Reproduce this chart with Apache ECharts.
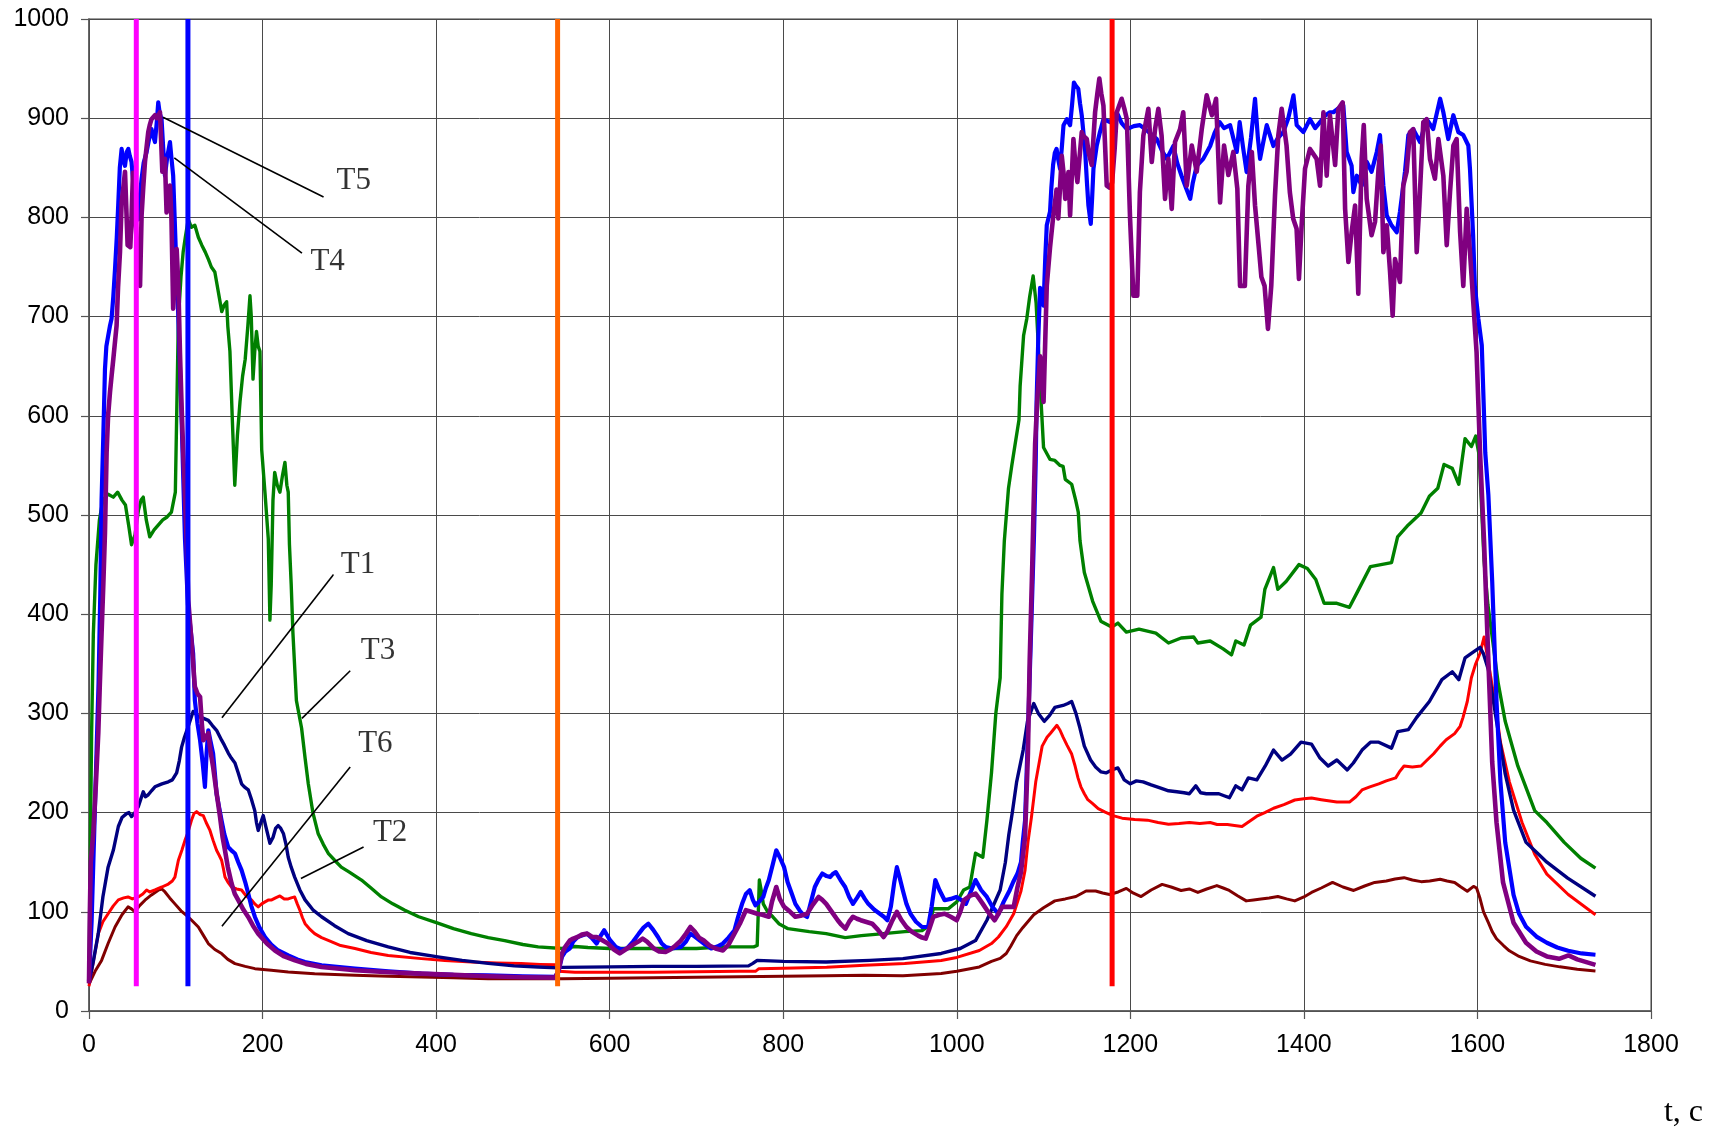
<!DOCTYPE html>
<html><head><meta charset="utf-8">
<script src="https://cdn.jsdelivr.net/npm/echarts@6/dist/echarts.min.js"></script>
<style>html,body{margin:0;padding:0;background:#fff}#c{width:1714px;height:1136px}</style>
</head><body><div id="c"></div>
<script>
// ---- data: [time s, temperature] ----
const seriesGreen = [[0,30],[1,120],[3,280],[5,380],[8,450],[12,495],[16,515],[22,521],[28,518],[33,523],[38,515],[42,510],[46,488],[49,470],[53,480],[57,505],[60,515],[62.5,518],[66,495],[70,478],[75,485],[80,490],[85,495],[90,498],[95,503],[99.5,523],[103,698],[106,740],[108.5,765],[111,780],[114.4,798],[118,790],[122,792],[126,780],[130,772],[134,765],[137.5,758],[141,750],[145,745],[149,725],[153,705],[156,712],[158.6,715],[160,690],[162.4,665],[165,600],[168,530],[171,580],[174,614],[177,640],[180,657],[183,690],[185.5,721],[187,700],[189,637],[191,665],[193,685],[195,670],[197,665],[199,566],[203,520],[206.6,476],[208.5,394],[210,430],[212,515],[214,543],[217,530],[220,523],[223,540],[225.8,553],[228,530],[229.6,523],[231,470],[233,430],[235,381],[239,313],[245,285],[249,255],[252.7,229],[258,200],[264,179],[270,168],[275.7,159],[283,152],[290.7,145],[300,140],[314,132],[325,124],[337,115],[350,108],[364,101.6],[380,95],[402,88.5],[420,83],[440.5,78],[460,74],[479,71],[500,67],[517.6,64.6],[545,63],[560,65],[575,64],[600,63],[650,63],[700,63],[731,64.6],[766,64.6],[770,66],[772.5,132],[775,120],[777,108],[782,100],[788,95],[795,88],[805.5,83],[830,80],[849.5,78],[871.4,74],[890,76],[915.7,78],[940,80],[960,81],[968,86],[973,103],[990,103],[1000,110],[1008,122],[1015,125],[1021.6,159],[1030,155],[1034.7,192],[1040,240],[1045,300],[1050,336],[1052,420],[1054.8,474],[1059.6,527],[1063.4,550],[1067,570],[1071.7,596],[1073,630],[1077,681],[1080.7,698],[1084,720],[1088,741],[1091.4,714],[1094,670],[1096,633],[1100,568],[1107.5,556],[1113,555],[1119,550],[1122.5,549],[1125,536],[1132.4,531],[1137,515],[1140,503],[1142,474],[1147,442],[1156.6,413],[1166,393],[1178.5,387],[1185.7,391],[1195.4,382],[1210,385],[1229.4,381],[1244,371],[1258.5,376],[1273,377],[1277.8,371],[1292,373],[1307,365],[1316.6,359],[1321.5,373],[1331,369],[1338.5,389],[1350.6,397],[1355,425],[1365,447],[1370,425],[1379.5,433],[1394.3,450],[1404,446],[1413.7,435],[1423.3,411],[1438,411],[1452.5,407],[1462,423],[1476.7,448],[1501,452],[1508,478],[1520.3,490],[1535,502],[1544.6,519],[1554.3,527],[1561.5,551],[1571,547],[1578.5,531],[1585.7,577],[1593,569],[1598,579.5],[1602,560],[1607.6,454],[1612,410],[1617,377],[1624,330],[1632,292],[1646.5,247],[1666,202],[1680,190],[1700,170],[1719,154],[1736,144]];

const seriesNavy = [[0,28],[5,50],[10.7,78],[16,115],[22,145],[28,162],[33.8,186],[38,195],[43.3,199],[46,200],[49,196],[53,200],[56.8,206],[62.5,221],[65,216],[68.3,218],[72,222],[76,226],[84,229],[91.4,231],[96,233],[101,240],[104,252],[106.7,266],[110,276],[114.4,287],[120,302],[126,297],[132,295],[137.5,293],[142,288],[147,283],[152.8,273],[156,268],[160.5,260],[164,255],[168.2,250],[172,240],[175.8,229],[179,226],[183.5,223],[187,214],[191,202],[193,190],[195,182],[198,190],[200.8,197],[204,185],[208.5,169],[212,175],[215,184],[218,187],[221,184],[224,179],[227,168],[229.6,155],[233,145],[237,135],[243,122],[249,112],[258,102],[268,95],[283,86],[298.7,78],[320,71],[344.8,64.6],[370,59],[402,54.5],[430,51],[460,48],[490,45.5],[517.7,44.4],[540,43.5],[545,44],[600,44.5],[650,45],[700,45],[760,45.5],[765,48],[770,51],[800,50],[849.5,49.4],[900,51],[938,52.8],[982,58],[1004,63],[1021.6,71],[1034.7,91.5],[1050,122],[1056,150],[1060,178],[1064,200],[1069,231],[1076.5,263],[1081.5,292],[1088.7,310],[1094,300],[1100.8,292],[1107,298],[1113,306],[1122.5,308],[1128,310],[1132.4,312],[1137.3,300],[1142,285],[1147,267],[1154.2,253],[1160,246],[1166.3,241],[1172,240],[1178.5,243],[1185.7,245],[1190,238],[1193,233],[1200,229],[1207,232],[1214.7,231],[1224,228],[1234.2,225],[1244,222],[1253.6,221],[1262,220],[1268,219],[1275.4,227],[1281,220],[1287.6,219],[1302,219],[1308,217],[1314.2,215],[1321.5,227],[1328.7,223],[1336,235],[1345.8,233],[1355.5,247],[1365,263],[1374.8,253],[1384.6,259],[1396.7,271],[1408.8,269],[1418.6,255],[1428,247],[1438,253],[1450,243],[1457,250],[1467,263],[1476.7,271],[1486.3,271],[1501,265],[1508.2,281.6],[1520.4,283.6],[1530,296],[1544.6,312],[1559,334],[1571,342],[1578.5,334],[1585.7,356],[1593,360.6],[1603,366.6],[1607,360],[1612.6,344],[1617,320],[1622,292],[1632,239],[1641.6,202.5],[1656,170],[1668,160],[1680,150],[1704,134],[1736,115.7]];

const seriesRed = [[0,25],[5,50],[10.7,78],[16,90],[22,98],[28,106],[33.8,112],[40,114],[45,115],[50,113],[56.8,115],[62,118],[66.4,122],[70,120],[76,122],[84,125],[91.4,128],[96,131],[99,135],[103,152],[107,162],[110.6,172],[114,180],[118,192],[121,199],[124,201],[128,198],[131.7,197],[135,190],[139.4,182],[143,172],[147,162],[150,157],[152.8,152],[155,143],[156.7,135],[160,130],[164.3,125],[170,123],[175.8,122],[181,116],[187.3,112],[191,108],[195,105],[199,108],[202.8,110],[207,112],[210.5,112],[215,114],[220,116],[225,113],[229.6,113],[233,114],[237,115],[240,108],[243,101.6],[246,94],[249,88],[255,82],[260,78],[268,74],[275.7,71.3],[290,66],[306.5,63],[325,59],[344.8,56],[383,52.8],[410,51],[440.8,49.4],[470,48.5],[498,47.8],[520,47],[538,46.5],[541,40],[560,39],[600,39],[650,39],[700,39.5],[750,40],[768,40],[772,42.7],[800,43],[850,44],[893.7,46],[940,48],[982,51],[1000,54],[1026,61],[1040,68],[1048,74.6],[1057,85],[1065.6,98],[1074,121],[1078.7,142],[1082,170],[1086,195],[1091,231],[1098.4,267],[1104,276],[1108,280],[1115.4,288],[1119,283],[1122.5,276],[1127,268],[1132.4,259],[1136,248],[1139.7,235],[1143,226],[1147,219],[1151,213],[1156.6,209],[1163,204],[1171,200.5],[1180,197],[1190.5,194.4],[1205,193],[1219.7,192.4],[1232,190],[1244,188.3],[1256,189],[1268,190],[1280,189],[1292,190],[1300,188],[1311.8,188],[1320,187],[1328.7,186],[1337,191],[1345.8,196.4],[1355,200],[1365,204.4],[1377,208],[1389.5,212.7],[1400,214],[1408.8,214.7],[1420,213],[1438,210.6],[1452.5,210.6],[1460,216],[1467,222.8],[1476,226],[1486.3,229],[1495,232],[1505.8,235],[1510,241],[1515.4,247],[1525,246],[1535,247],[1542,253],[1549.5,259.3],[1557,267],[1564,273.4],[1573.7,279.6],[1580,287],[1583.4,296],[1588.3,312],[1593,336],[1598,350],[1603,360.6],[1607.6,377],[1611,360],[1617,328],[1622,300],[1626.5,271],[1636.8,231],[1651.4,190],[1666,158],[1680,138],[1704.6,117.4],[1736,97]];

const seriesMaroon = [[0,27],[7,40],[14.5,51],[22,68],[30,84.7],[38,97],[45,105],[49,103],[53,100],[58,106],[64.5,111.7],[72,117],[79.8,121.8],[84,123],[87.6,120],[93,114],[99,108],[106,101],[114.4,94.8],[120,90],[126,84.7],[132,76],[137.5,68],[145,62],[152.8,57.9],[160,52],[168.2,47.8],[180,45],[191.2,42.7],[210,41],[229.6,39.3],[260,37.5],[306.5,36],[345,35],[383,34.3],[420,33.5],[460,32.6],[500,32.6],[545,32.6],[600,33],[650,33.5],[700,34],[750,34.5],[800,35],[850,35.5],[893.7,36],[938,35.5],[982,37.7],[1000,40],[1026,44.4],[1040,50],[1050,53],[1057,58],[1062,65],[1069,76],[1076,84],[1088.7,97],[1100,104],[1113,111],[1125,113],[1137.3,115.4],[1149,121],[1160,121],[1168,119],[1176,117.4],[1186,120],[1195.4,123.6],[1203,119],[1212.4,115.4],[1224,122],[1236.6,127.6],[1247,125],[1258.5,121.5],[1268,123],[1277.8,119.5],[1288,123],[1299.7,126.4],[1307,124],[1314,121.5],[1324,116],[1333.6,111],[1342,112],[1350.6,113],[1360,114],[1370,115.4],[1380,113],[1389.5,111],[1400,115],[1408.8,119.5],[1420,124],[1433,129.6],[1445,125],[1457.4,121.5],[1470,126],[1481.6,129.6],[1495,131],[1505,133],[1515.4,134.4],[1525,132],[1535,130.4],[1545,131],[1557,132.8],[1565,131],[1573.7,129.6],[1581,125],[1588.3,120.7],[1595.5,125.6],[1599,124],[1603,113.4],[1607,100],[1612.6,89],[1617,80],[1622,72.8],[1630,66],[1636.8,60.7],[1648,55],[1661,50.5],[1678,47],[1695,44.5],[1715,42],[1736,40.4]];

const seriesBlue = [[0,30],[3,90],[6,180],[9,270],[11,330],[13,420],[14.5,515],[16.5,580],[18.4,647],[20,670],[22.2,681],[24,690],[26,698],[28,720],[30,748],[32,780],[33.8,815],[35.5,850],[37.6,869],[39.5,858],[41.5,852],[43.5,866],[45.3,869],[47,862],[49,856],[51,835],[53,812],[55,805],[56.8,798],[58.5,820],[60.6,839],[63,855],[66.4,866],[69,878],[72,889],[74,882],[76,876],[78,895],[79.8,916],[81.5,905],[83.6,899],[85.5,870],[87.5,842],[90,860],[93.3,876],[95,860],[97,842],[99.8,772],[103,698],[106.7,597],[110.6,476],[114,410],[117,385],[120,360.5],[122,313],[125,290],[128,273],[131,250],[133.6,226],[135.5,260],[137.5,283],[140,272],[143,259.6],[145,240],[147,219],[150,205],[152.8,192],[156,178],[160.5,165],[164,162],[168.2,158.8],[172,150],[175.8,142],[180,130],[183.5,118.4],[187,106],[191.2,94.8],[196,85],[202.8,74.6],[210,67],[218,61],[229.6,56],[240,52],[248.8,49.4],[268,46],[306.5,42.7],[345,40],[383,37.7],[420,36.5],[460,36],[500,35],[537,34.3],[541,40],[545,54.5],[549,60],[554,63],[558,70],[563,74.6],[568,76],[574,78],[580,73],[585,68],[589,75],[593.7,81.4],[600,72],[607,64.6],[613,62],[620,63],[627,70],[633.6,78],[639,84],[644.6,88],[650,82],[655.7,74.6],[660,68],[664.4,64.6],[672,63],[682,64.6],[688,70],[693,78],[698,75],[704,71],[710,67],[717,63],[724,65],[730.5,68],[737,74],[743.8,81.4],[748,95],[752.6,108],[757,118],[761.4,121.8],[765,112],[768,106.6],[772,110],[777,115],[780,124],[783.4,132],[788,148],[792,162],[796,155],[801,145],[805,130],[810,118],[814,108],[818.7,101.6],[823,97],[827.5,94.8],[832,110],[836.4,125],[841,133],[845,138.6],[850,136],[854,135],[857,138],[860.6,140],[866,132],[871.4,125],[876,115],[880.4,108],[885,114],[889.3,120],[894,113],[898,108],[905,102],[911.3,98],[916,95],[920,91.5],[924,105],[928,130],[931,145],[934,135],[937.8,121.8],[942,108],[946.6,98],[953,90],[960,84.7],[967,84.7],[971,105],[975.3,132],[980,122],[986,111.7],[993,113],[999.5,115],[1005,112],[1010.5,108],[1016,120],[1021.6,132],[1028,122],[1034.7,115],[1041,105],[1048,98],[1054,110],[1061,121.8],[1065,130],[1070,138.6],[1074,150],[1076,170],[1078.7,192],[1082,280],[1086,393],[1089,480],[1091,555],[1092,615],[1094,680],[1096,729],[1098,720],[1100,711],[1102,760],[1103.7,792],[1107.5,806],[1109,830],[1111,853],[1113,865],[1115,869],[1117,858],[1119,849],[1121,870],[1123,893],[1126.8,899],[1130.6,893],[1133,915],[1135,936],[1137,933],[1140,929.7],[1142,915],[1144,903],[1146,885],[1148,866],[1150,835],[1151.7,812],[1154.4,793.5],[1156,820],[1157.5,849],[1161.3,872.5],[1165,886],[1169,899],[1176.6,896],[1184.4,906],[1190,895],[1196,889],[1204,892],[1211,893],[1220,887],[1230.5,879],[1236,868],[1242,859],[1249.6,872],[1254,855],[1259,842],[1264,830],[1269,818.7],[1272,835],[1276.5,852],[1284,859],[1292,872],[1297,885],[1303,896],[1308,890],[1315,893],[1322.6,866],[1326,896],[1330,870],[1334,845.7],[1339,880],[1343.7,919.6],[1347,880],[1349.5,859],[1353,875],[1357.2,893],[1364.8,872],[1370,880],[1376.3,886],[1382,900],[1388,923],[1391.7,893],[1399.4,886],[1407,899],[1413,890],[1418.6,896],[1425,903],[1430,906],[1434,906],[1440,910],[1445.4,913],[1449.3,866],[1455,852],[1457,825.5],[1461,842],[1466.7,832],[1472.5,856],[1478,846],[1484,866],[1487.7,883],[1491.6,832],[1495.5,802],[1501,792],[1507,785],[1510.7,805.6],[1516.5,846],[1520.4,883],[1526,889],[1533.8,876],[1541.5,899],[1549,889],[1557,919.6],[1560.7,906],[1566.4,879],[1572.2,903],[1578,886],[1583.7,883],[1589.5,872.5],[1591.4,849],[1595,782],[1597,731],[1601,698],[1605,671],[1609,563],[1612.6,520],[1617,433],[1622,312],[1626.5,231],[1632,170],[1641.6,117],[1648,98],[1656,85],[1668,75],[1680,68.8],[1692,64],[1704.6,60.7],[1720,58],[1736,56.7]];

const seriesPurple = [[0,28],[1,100],[2,150],[5,180],[8,230],[10.7,280],[12.5,330],[14.5,381],[16.5,430],[18.4,482],[20.3,563],[22,600],[24.2,624],[26,640],[28,657],[30,675],[31.8,691],[33.5,730],[35.7,765],[37.6,815],[39.5,830],[41.5,846],[43.8,845],[44.5,772],[46,770],[47.6,770],[49,800],[50.7,845],[52,820],[54,790],[56,760],[58.8,731],[60.6,802],[62.5,830],[64.5,856],[66.5,872],[68.3,886],[70,893],[72,899],[74,901],[76,903],[78,900],[79.8,899],[81.8,906],[83,880],[84.5,846],[86,852],[87.5,859],[88.5,830],[89.4,805],[91,815],[93.3,832],[95,800],[97,708],[99,740],[101,768],[103,731],[104.8,664],[106.7,610],[108.6,563],[110.5,520],[112.5,476],[114.4,414],[118,374],[120,350],[122,327],[125,320],[128,316.7],[130,290],[131.7,273],[134,275],[137.5,280],[140,262],[143,246],[147,220],[151,195.7],[154,175],[156.7,162],[160,145],[164.3,128.5],[168,118],[172,111.7],[178,102],[183.5,94.8],[189,86],[195,78],[205,68],[214.3,61],[225,55],[237.3,51],[250,47.5],[268,44.4],[306.5,41],[345,39],[383,37.7],[420,36.5],[460,35],[500,34],[537,33.6],[541,40],[545,58],[549,65],[554,71],[558,73],[563,74.6],[568,77],[574,78],[580,74.6],[585,74.6],[590,72],[598,68],[605,62],[611.6,58],[620,63],[629,68],[633,70],[638,73],[643,70],[651,63],[657,60],[664.4,59.5],[670,62],[676,66],[682,71],[688,78],[693,84.7],[698,80],[703,74],[708.5,71],[715,66],[722,63],[730.5,61],[737,67],[743.8,78],[750,88],[757,101.6],[763,100],[770,98],[776,97],[783.4,95],[787,110],[792,125],[796,113],[801,105],[808,100],[814,95],[820,96],[827.5,98],[834,107],[840.8,115],[845,112],[849.5,108],[856,100],[862.8,91.5],[867,87],[871.7,83],[876,90],[880.4,95],[885,93],[889.3,91.5],[895,90],[902.5,88],[909,82],[915.7,74.6],[920,80],[925,90],[931,100],[936,92],[942,84.7],[948,80],[955.5,76],[960,74],[964.2,73],[968,82],[973,95],[980,97],[986,98],[993,95],[1000,91.5],[1004,100],[1008.3,111.7],[1015,116],[1021.6,118.4],[1026,113],[1030,108],[1036,100],[1043.6,91.5],[1048,98],[1052.3,105],[1060,105],[1065.6,105],[1070,125],[1074,140],[1078.7,175.5],[1082,260],[1084,352.5],[1087,450],[1088.7,515],[1090.3,572],[1093,620],[1096,660],[1100,614],[1103.7,731],[1107.5,770],[1111,800],[1115,828],[1117,799],[1119,801],[1121,862],[1123,845],[1125,818.7],[1128.7,845.7],[1130.6,802],[1134.4,879],[1137,850],[1139,835.6],[1144,886],[1146,882],[1149.8,879],[1152,865],[1155.5,852.8],[1159.4,906],[1162,925],[1164.3,940],[1166.5,925],[1169,912.6],[1172.8,832],[1176,830],[1179,835],[1182,870],[1184.4,906],[1190,919.6],[1193,910],[1196,899],[1199.7,798.6],[1203.5,721],[1208,721],[1211,825.5],[1215,882.6],[1220.8,909.5],[1224.7,855.8],[1228.5,889],[1232.3,909.5],[1236,882.6],[1240,818.7],[1243.8,859],[1247.7,808.6],[1251.5,876],[1257.3,889],[1261,906],[1265,832],[1270.8,872.5],[1276.5,846],[1282.3,889],[1288,923],[1294,903],[1298.8,919.6],[1303.4,815],[1308,872.5],[1313,842.7],[1318.7,866],[1323.3,829],[1326.4,731],[1332,731],[1336,832],[1340,866],[1343.7,812],[1348,770],[1351,740],[1354.7,731],[1358.6,687.6],[1362.4,731],[1366.7,822],[1370.5,882.6],[1374.4,909.5],[1380,872.5],[1383.8,825.5],[1387.7,798.6],[1391.6,788.5],[1394.3,738],[1397.4,792],[1401.3,849],[1407,869],[1414.7,859],[1418.6,832],[1422.5,906],[1426.3,842],[1430,903],[1436,852.8],[1439.7,909.5],[1444.7,916],[1447.5,808.6],[1451.3,755],[1455,785],[1459,812],[1462.7,723],[1466.6,859],[1469,893],[1472.4,818.7],[1478,782],[1482,795.6],[1486,849],[1488.6,872.5],[1491.6,765],[1495.5,792],[1499.3,745],[1502.3,701],[1505,758],[1510.7,735],[1514.5,832],[1518.4,846],[1522.2,886],[1526,889],[1530,765],[1533,812],[1537.6,896],[1541.5,899],[1545.3,859],[1551,839],[1555,879],[1560.7,842],[1564.6,772],[1568.4,825.5],[1572.3,872.5],[1576,879],[1580,785.6],[1583.7,731],[1587.6,808.6],[1591.4,765],[1595.2,714.6],[1599,664],[1603,563],[1607.6,474],[1612.6,352.7],[1617,251],[1622,190],[1629.5,129.6],[1641.6,89],[1656,68.8],[1668,60],[1680,55],[1694,52.6],[1705,56],[1715,52],[1736,46.5]];

// vertical marker lines (time, s) and their vertical extent
const markerTimes = [54.5, 114, 540, 1179];
const markerColors = ['#FF00FF', '#0000FF', '#FF6600', '#FF0000'];
const markerRange = [25, 1000];

// annotations: label text, label position, leader line [from, to] in data units
const labelNames = ['T5', 'T4', 'T1', 'T3', 'T6', 'T2'];
const labelPos = [[305, 837], [275, 755], [310, 450], [333, 363], [330, 269], [347, 180]];
const leaderLines = [
  [[85.3, 901], [270.3, 820.5]],
  [[98.3, 860], [245.4, 764]],
  [[281.8, 440], [153.2, 295.5]],
  [[301, 343], [245.4, 295]],
  [[301, 246], [153.2, 85.4]],
  [[316.4, 165.4], [244.2, 133.5]]
];

const xTickMin = 0, xTickMax = 1800, xTickStep = 200;
const yTickMin = 0, yTickMax = 1000, yTickStep = 100;

// ---- chart ----
const chart = echarts.init(document.getElementById('c'), null, {renderer: 'canvas'});

function dataLine(name, data, color, width, z) {
  return {
    name: name, type: 'line', data: data, showSymbol: false, symbol: 'none',
    lineStyle: {color: color, width: width, join: 'round'}, z: z, silent: true, animation: false
  };
}

const series = [
  dataLine('T2', seriesMaroon, '#800000', 3, 2),
  dataLine('T6', seriesRed, '#FF0000', 3, 3),
  dataLine('T1', seriesNavy, '#000080', 3.4, 4),
  dataLine('T3', seriesGreen, '#008000', 3.4, 5),
  dataLine('T4', seriesBlue, '#0000FF', 4.2, 6),
  dataLine('T5', seriesPurple, '#800080', 4.6, 7)
];

markerTimes.forEach((t, i) => {
  series.push({
    type: 'line', data: [[t, markerRange[0]], [t, markerRange[1]]],
    showSymbol: false, symbol: 'none', silent: true,
    lineStyle: {color: markerColors[i], width: 5}, z: 10
  });
});

series.push({
  type: 'lines', coordinateSystem: 'cartesian2d', silent: true, z: 11,
  lineStyle: {color: '#000', width: 1.6, opacity: 1},
  data: leaderLines.map(l => ({coords: l}))
});

series.push({
  type: 'scatter', silent: true, z: 12, symbol: 'circle', symbolSize: 1,
  itemStyle: {color: 'rgba(0,0,0,0)'},
  data: labelPos.map((p, i) => ({value: p, name: labelNames[i]})),
  label: {
    show: true, position: 'inside', formatter: p => p.name,
    fontFamily: 'Liberation Serif', fontSize: 31, color: '#000',
    backgroundColor: '#fff', padding: [4, 7]
  }
});

const axisCommon = {
  type: 'value',
  axisLine: {show: true, lineStyle: {color: '#555', width: 1.5}},
  axisTick: {show: true, length: 8, inside: false, lineStyle: {color: '#555', width: 1.2}},
  splitLine: {show: true, lineStyle: {color: '#4a4a4a', width: 1}},
  axisLabel: {color: '#000', fontFamily: 'Liberation Sans', fontSize: 25, showMinLabel: true, showMaxLabel: true,
    formatter: v => String(v)}
};

chart.setOption({
  animation: false,
  backgroundColor: '#fff',
  title: {
    text: 't, c', right: 6, bottom: 2,
    textStyle: {fontFamily: 'Liberation Serif', fontSize: 32, fontWeight: 'normal', color: '#000'}
  },
  grid: {left: 89, right: 63, top: 19, bottom: 125, show: true, borderColor: '#808080', borderWidth: 1.5, backgroundColor: 'transparent'},
  xAxis: Object.assign({}, axisCommon, {
    min: xTickMin, max: xTickMax, interval: xTickStep,
    axisLabel: Object.assign({}, axisCommon.axisLabel, {margin: 22})
  }),
  yAxis: Object.assign({}, axisCommon, {
    min: yTickMin, max: yTickMax, interval: yTickStep,
    axisLabel: Object.assign({}, axisCommon.axisLabel, {margin: 20})
  }),
  series: series
});
</script>
</body></html>
